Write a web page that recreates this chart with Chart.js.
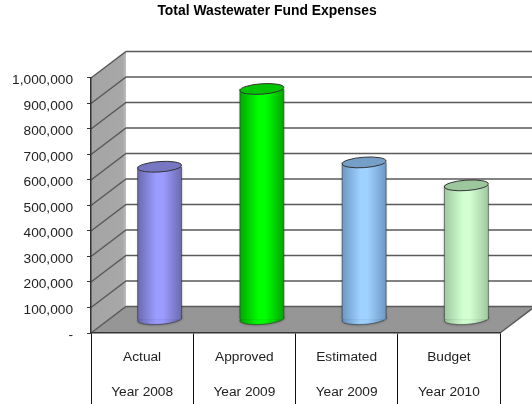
<!DOCTYPE html>
<html>
<head>
<meta charset="utf-8">
<style>
  html, body { margin: 0; padding: 0; background: #fff; }
  #wrap { position: relative; width: 532px; height: 404px; overflow: hidden; }
</style>
<script src="https://cdn.jsdelivr.net/npm/chart.js@4/dist/chart.umd.min.js"></script>
</head>
<body>
<div id="wrap"><canvas id="chart" width="532" height="404"></canvas></div>
<script>
const titleText = 'Total Wastewater Fund Expenses';
const periods = ['Actual', 'Approved', 'Estimated', 'Budget'];
const years = ['Year 2008', 'Year 2009', 'Year 2009', 'Year 2010'];
const expenses = [600000, 905000, 617000, 527000];

const bodyEdge = ['#6a6ab0', '#00a800', '#6c98c4', '#a0c8a0'];
const bodyMid = ['#9c9cff', '#00ff00', '#a0d2ff', '#d2ffd2'];
const capFill = ['#7676c2', '#00c400', '#769fc8', '#9cc69c'];

// fake 3d depth of the plot box
const depthX = 35;
const depthY = 26.5;
const font = 'Liberation Sans, Arial, sans-serif';

function cylinderFill(ctx, left, right, i) {
  const g = ctx.createLinearGradient(left, 0, right, 0);
  g.addColorStop(0, bodyEdge[i]);
  g.addColorStop(0.42, bodyMid[i]);
  g.addColorStop(0.58, bodyMid[i]);
  g.addColorStop(1, bodyEdge[i]);
  return g;
}

const box3d = {
  id: 'box3d',
  afterLayout(chart) {
    // the tick labels are clipped to the scale box, so let it reach the left edge
    chart.scales.y.left = 0;
  },
  beforeDraw(chart) {
    const { ctx, chartArea: a, scales } = chart;
    const backRight = a.right + depthX;
    ctx.save();

    // side wall
    const wall = ctx.createLinearGradient(a.left, 0, a.left + depthX, 0);
    wall.addColorStop(0, '#a4a4a4');
    wall.addColorStop(0.9, '#a8a8a8');
    wall.addColorStop(1, '#bdbdbd');
    ctx.fillStyle = wall;
    ctx.beginPath();
    ctx.moveTo(a.left, a.top);
    ctx.lineTo(a.left + depthX, a.top - depthY);
    ctx.lineTo(a.left + depthX, a.bottom - depthY);
    ctx.lineTo(a.left, a.bottom);
    ctx.closePath();
    ctx.fill();

    // floor
    ctx.fillStyle = '#969696';
    ctx.beginPath();
    ctx.moveTo(a.left, a.bottom);
    ctx.lineTo(a.left + depthX, a.bottom - depthY);
    ctx.lineTo(backRight, a.bottom - depthY);
    ctx.lineTo(a.right, a.bottom);
    ctx.closePath();
    ctx.fill();

    // gridlines run along the side wall then the back wall
    ctx.strokeStyle = '#333';
    ctx.lineWidth = 1.5;
    scales.y.ticks.forEach(t => {
      const y = scales.y.getPixelForValue(t.value);
      ctx.beginPath();
      ctx.moveTo(a.left, y);
      ctx.lineTo(a.left + depthX, y - depthY);
      if (t.value > 0) {
        ctx.lineTo(backRight, y - depthY);
      } else {
        ctx.strokeStyle = '#5a5a5a';
        ctx.lineTo(backRight, y - depthY);
        ctx.lineTo(a.right, y);
      }
      ctx.stroke();
    });
    ctx.restore();
  },
  beforeDatasetDraw(chart, args) {
    const { ctx } = chart;
    ctx.save();
    // bars stand in the middle of the floor
    ctx.translate(depthX / 2, -depthY / 2);
    ctx.shadowColor = 'rgba(0,0,0,0.3)';
    ctx.shadowBlur = 3;
    chart.getDatasetMeta(args.index).data.forEach((bar, i) => {
      const rx = bar.width / 2;
      const fill = cylinderFill(ctx, bar.x - rx, bar.x + rx, i);
      bar.options.backgroundColor = fill;
      ctx.fillStyle = fill;
      ctx.strokeStyle = 'rgba(50,50,50,0.6)';
      ctx.beginPath();
      ctx.ellipse(bar.x, bar.base, rx, 5.2, -0.07, 0, Math.PI * 2);
      ctx.fill();
      ctx.stroke();
    });
  },
  afterDatasetDraw(chart, args) {
    const { ctx } = chart;
    chart.getDatasetMeta(args.index).data.forEach((bar, i) => {
      const rx = bar.width / 2;
      ctx.shadowColor = 'transparent';
      ctx.strokeStyle = 'rgba(50,50,50,0.6)';
      ctx.lineWidth = 1;
      ctx.beginPath();
      ctx.moveTo(bar.x - rx, bar.y);
      ctx.lineTo(bar.x - rx, bar.base);
      ctx.moveTo(bar.x + rx, bar.y);
      ctx.lineTo(bar.x + rx, bar.base);
      ctx.stroke();

      ctx.fillStyle = capFill[i];
      ctx.strokeStyle = '#333';
      ctx.beginPath();
      ctx.ellipse(bar.x, bar.y, rx, 5.2, -0.07, 0, Math.PI * 2);
      ctx.fill();
      ctx.stroke();
    });
    ctx.restore();
  }
};

new Chart(document.getElementById('chart'), {
  type: 'bar',
  data: {
    labels: periods.map((p, i) => [p, years[i]]),
    datasets: [{
      data: expenses,
      barPercentage: 0.43,
      categoryPercentage: 1,
      borderWidth: 0,
      backgroundColor: bodyMid
    }]
  },
  options: {
    responsive: false,
    animation: false,
    // left and right padding even out so the title centres on the whole picture
    layout: { padding: { top: 0, right: 32, bottom: 0, left: 34 } },
    plugins: {
      legend: { display: false },
      tooltip: { enabled: false },
      title: {
        display: true,
        text: titleText,
        color: '#000',
        font: { family: font, size: 13.9, weight: 'bold' },
        padding: { top: 3, bottom: 58.3 }
      }
    },
    datasets: { bar: { clip: false } },
    scales: {
      x: {
        border: { color: '#333', width: 1.5 },
        grid: { drawOnChartArea: false, offset: true, tickLength: 71, color: '#111', tickWidth: 1 },
        ticks: {
          color: '#222',
          maxRotation: 0,
          padding: -64.5,
          font: { family: font, size: 13.7, lineHeight: '35px' }
        },
        afterFit(scale) { scale.height = 71; }
      },
      y: {
        min: 0,
        max: 1000000,
        border: { color: '#333', width: 1.5 },
        grid: { drawOnChartArea: false, tickLength: 4, color: '#333' },
        ticks: {
          stepSize: 100000,
          color: '#222',
          padding: 14,
          labelOffset: 2.5,
          font: { family: font, size: 13.7 },
          callback: v => v === 0 ? '-' : v.toLocaleString('en-US')
        },
        afterFit(scale) { scale.width = 57; }
      }
    }
  },
  plugins: [box3d]
});
</script>
</body>
</html>
